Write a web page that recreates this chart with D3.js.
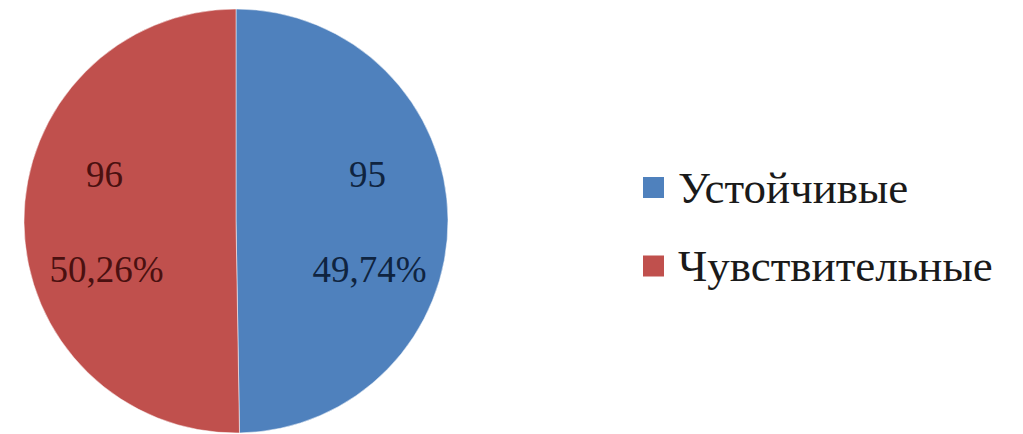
<!DOCTYPE html>
<html><head><meta charset="utf-8">
<script src="https://cdn.jsdelivr.net/npm/d3@7"></script>
</head><body>
<svg id="chart" width="1023" height="434"></svg>
<script>
const categories = ["Устойчивые", "Чувствительные"];
const values = [95, 96];
const percentLabels = ["49,74%", "50,26%"];
const colors = ["#4F81BD", "#C0504D"];

d3.select("body").style("margin", "0px").style("background", "#ffffff");
const svg = d3.select("#chart").style("display", "block");
const cx = 236, cy = 221, r = 212;
const g = svg.append("g").attr("transform", `translate(${cx},${cy})`);
const pie = d3.pie().sort(null).value(d => d);
const arcs = pie(values);
const arc = d3.arc().innerRadius(0).outerRadius(r);
const color = d3.scaleOrdinal().domain(categories).range(colors);

g.selectAll("path").data(arcs).enter().append("path")
  .attr("d", arc).attr("fill", (d, i) => color(categories[i]))
  .attr("stroke", "#fff").attr("stroke-width", 0.5);

function serif(sel, size) {
  return sel.attr("font-family", "Liberation Serif")
    .style("font-family", "'Liberation Serif', 'Times New Roman', Tinos, serif", "important")
    .style("font-size", size + "px", "important");
}

const labelArc = d3.arc().innerRadius(r * 0.62).outerRadius(r * 0.62);
const textColors = ["#0F2440", "#4A1010"];
arcs.forEach((d, i) => {
  const [x] = labelArc.centroid(d);
  serif(g.append("text"), 37).attr("x", x).attr("y", -34)
    .attr("text-anchor", "middle").attr("fill", textColors[i]).text(values[i]);
  serif(g.append("text"), 37).attr("x", x + 2).attr("y", 61)
    .attr("text-anchor", "middle").attr("fill", textColors[i]).text(percentLabels[i]);
});

const legend = svg.append("g").attr("transform", "translate(643,0)");
const legendY = d3.scalePoint().domain(categories).range([187.5, 266]);
categories.forEach((c, i) => {
  const y = legendY(c);
  legend.append("rect").attr("x", 0).attr("y", y - 10.5).attr("width", 21).attr("height", 21).attr("fill", color(c));
  serif(legend.append("text"), 45).attr("x", 35).attr("y", y + 15)
    .attr("fill", "#1a1a1a").text(c);
});
</script>
</body></html>
